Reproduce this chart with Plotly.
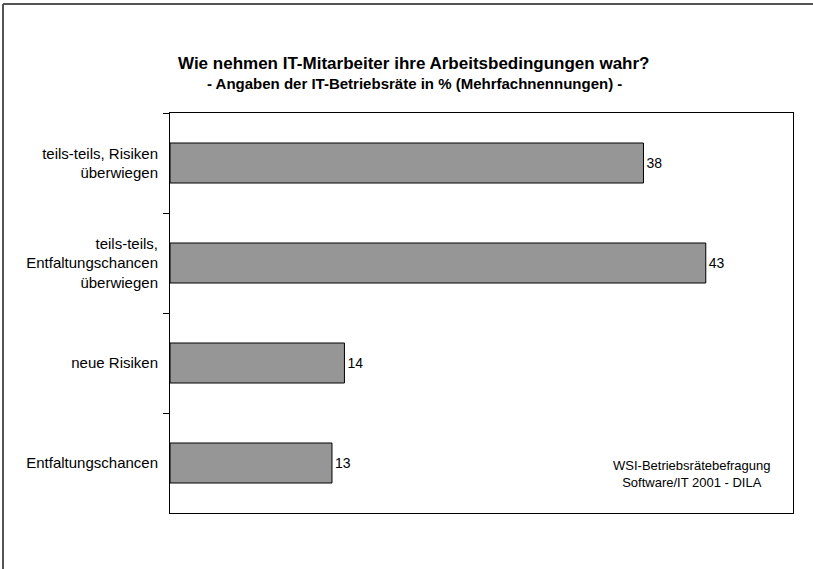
import plotly.graph_objects as go

categories = [
    "teils-teils, Risiken<br>überwiegen",
    "teils-teils,<br>Entfaltungschancen<br>überwiegen",
    "neue Risiken",
    "Entfaltungschancen",
]
values = [38, 43, 14, 13]

W, H = 813, 569
L, R, T, B = 170, 20, 113, 56
pw, ph = W - L - R, H - T - B
FONT = "Liberation Sans, Arial, Helvetica"


def px(x):
    return (x - L) / pw


def py(y):
    return (H - B - y) / ph


fig = go.Figure(go.Bar(
    y=categories, x=values, orientation="h",
    marker=dict(color="#969696", line=dict(color="black", width=1)),
    width=0.4,
    text=[str(v) for v in values], textposition="outside",
    textfont=dict(size=14, color="black", family=FONT),
    cliponaxis=False,
))

fig.update_layout(
    width=W, height=H,
    margin=dict(l=L, r=R, t=T, b=B),
    paper_bgcolor="white", plot_bgcolor="white",
    font=dict(family=FONT, size=14, color="black"),
    showlegend=False,
    xaxis=dict(range=[0, 50], showgrid=False, zeroline=False, showticklabels=False,
               showline=True, linecolor="black", linewidth=1, mirror=True, ticks=""),
    yaxis=dict(autorange="reversed", showgrid=False, zeroline=False,
               showline=True, linecolor="black", linewidth=1, mirror=True,
               ticks="outside", ticklen=6, tickcolor="black", tickson="boundaries",
               tickfont=dict(size=15), ticklabelstandoff=8),
    annotations=[
        dict(text="<b>Wie nehmen IT-Mitarbeiter ihre Arbeitsbedingungen wahr?</b>",
             xref="paper", yref="paper", x=px(414), y=py(64),
             showarrow=False, font=dict(size=17), xanchor="center", yanchor="middle"),
        dict(text="<b>- Angaben der IT-Betriebsräte in % (Mehrfachnennungen) -</b>",
             xref="paper", yref="paper", x=px(414), y=py(83),
             showarrow=False, font=dict(size=15), xanchor="center", yanchor="middle"),
        dict(text="WSI-Betriebsrätebefragung<br>Software/IT 2001 - DILA",
             xref="paper", yref="paper", x=px(692), y=py(474),
             showarrow=False, font=dict(size=13), xanchor="center", yanchor="middle"),
    ],
    shapes=[
        dict(type="line", xref="paper", yref="paper",
             x0=px(3), x1=px(3), y0=py(4), y1=py(H),
             line=dict(color="#555555", width=2)),
        dict(type="line", xref="paper", yref="paper",
             x0=px(3), x1=px(W), y0=py(4), y1=py(4),
             line=dict(color="#555555", width=2)),
    ],
)

fig.write_html("out.html", config={"displayModeBar": False},
               post_script="document.body.style.margin='0';")
